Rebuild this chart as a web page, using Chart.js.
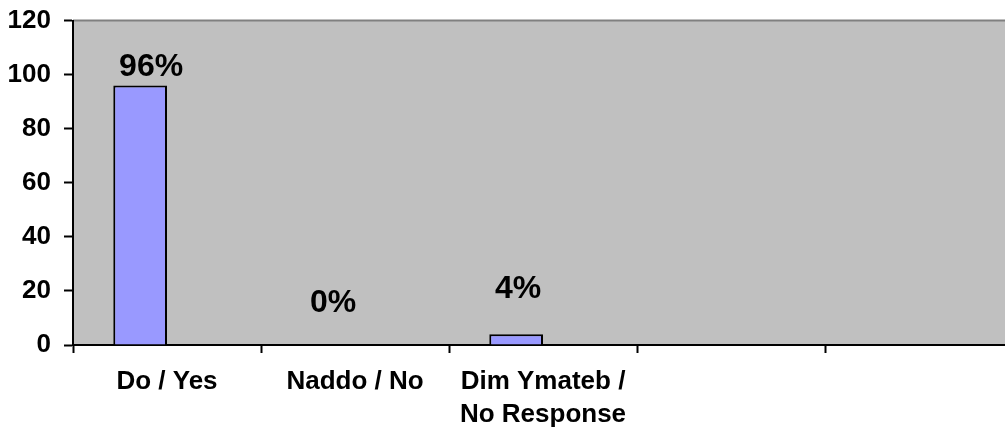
<!DOCTYPE html>
<html>
<head>
<meta charset="utf-8">
<script src="https://cdn.jsdelivr.net/npm/chart.js@4/dist/chart.umd.min.js"></script>
<style>
  html, body { margin: 0; padding: 0; background: #ffffff; overflow: hidden; }
  #wrap { width: 1013px; height: 443px; margin-top: -8px; }
</style>
</head>
<body>
<div id="wrap"><canvas id="c" width="1013" height="443"></canvas></div>
<script>
// ---- data ----
const categories = ["Do / Yes", "Naddo / No", ["Dim Ymateb /", "No Response"], "", ""];
const seriesResponses = [96, 0, 4, null, null];
const seriesEmpty = [null, null, null, null, null];
const yTicks = { min: 0, max: 120, step: 20 };

// ---- styling / helpers ----
const FONT = '"Liberation Sans", Arial, sans-serif';
const labelLift = [18, 42, 45, 0, 0];   // gap between bar top and label centre (px)
const labelShift = [11, 5, 2, 0, 0];    // horizontal nudge of labels (px)

const plotBackground = {
  id: 'plotBackground',
  beforeDraw(chart) {
    const { ctx, chartArea: a } = chart;
    ctx.save();
    ctx.fillStyle = '#C0C0C0';
    ctx.fillRect(a.left, a.top, a.right - a.left, a.bottom - a.top);
    ctx.strokeStyle = '#808080';
    ctx.lineWidth = 2;
    ctx.beginPath();
    ctx.moveTo(a.left, a.top);
    ctx.lineTo(a.right, a.top);
    ctx.stroke();
    ctx.restore();
  }
};

const valueLabels = {
  id: 'valueLabels',
  afterDatasetsDraw(chart) {
    const { ctx } = chart;
    const meta = chart.getDatasetMeta(0);
    ctx.save();
    ctx.fillStyle = '#000';
    ctx.font = 'bold 32px ' + FONT;
    ctx.textAlign = 'center';
    ctx.textBaseline = 'middle';
    meta.data.forEach((el, i) => {
      const v = seriesResponses[i];
      if (v === null || v === undefined) return;
      ctx.fillText(v + '%', el.x + labelShift[i], el.y - labelLift[i]);
    });
    ctx.restore();
  }
};

new Chart(document.getElementById('c'), {
  type: 'bar',
  data: {
    labels: categories,
    datasets: [
      {
        data: seriesResponses,
        backgroundColor: '#9999FF',
        borderColor: '#000000',
        borderWidth: 2,
        borderSkipped: 'bottom',
        categoryPercentage: 2 / 3.5,
        barPercentage: 1.0
      },
      {
        data: seriesEmpty,
        backgroundColor: '#993366',
        borderColor: '#000000',
        borderWidth: 2,
        categoryPercentage: 2 / 3.5,
        barPercentage: 1.0
      }
    ]
  },
  options: {
    responsive: false,
    animation: false,
    devicePixelRatio: 1,
    layout: { padding: { top: 0, right: 0, bottom: 0, left: 0 } },
    plugins: {
      legend: { display: false },
      tooltip: { enabled: false },
      title: { display: false }
    },
    scales: {
      x: {
        offset: true,
        grid: {
          display: true,
          drawOnChartArea: false,
          drawTicks: true,
          tickLength: 8,
          tickWidth: 2,
          tickColor: '#000000',
          offset: true
        },
        border: { display: true, color: '#000000', width: 2 },
        ticks: {
          color: '#000000',
          font: { family: FONT, size: 26, weight: 'bold', lineHeight: 1.28 },
          padding: 12,
          maxRotation: 0,
          minRotation: 0,
          autoSkip: false
        },
        afterFit(scale) { scale.height = 90; }
      },
      y: {
        min: yTicks.min,
        max: yTicks.max,
        grid: {
          display: true,
          drawOnChartArea: false,
          drawTicks: true,
          tickLength: 9,
          tickWidth: 2,
          tickColor: '#000000'
        },
        border: { display: true, color: '#000000', width: 2 },
        ticks: {
          stepSize: yTicks.step,
          color: '#000000',
          font: { family: FONT, size: 26, weight: 'bold' },
          padding: 13
        },
        afterFit(scale) { scale.width = 73; }
      }
    }
  },
  plugins: [plotBackground, valueLabels]
});
</script>
</body>
</html>
